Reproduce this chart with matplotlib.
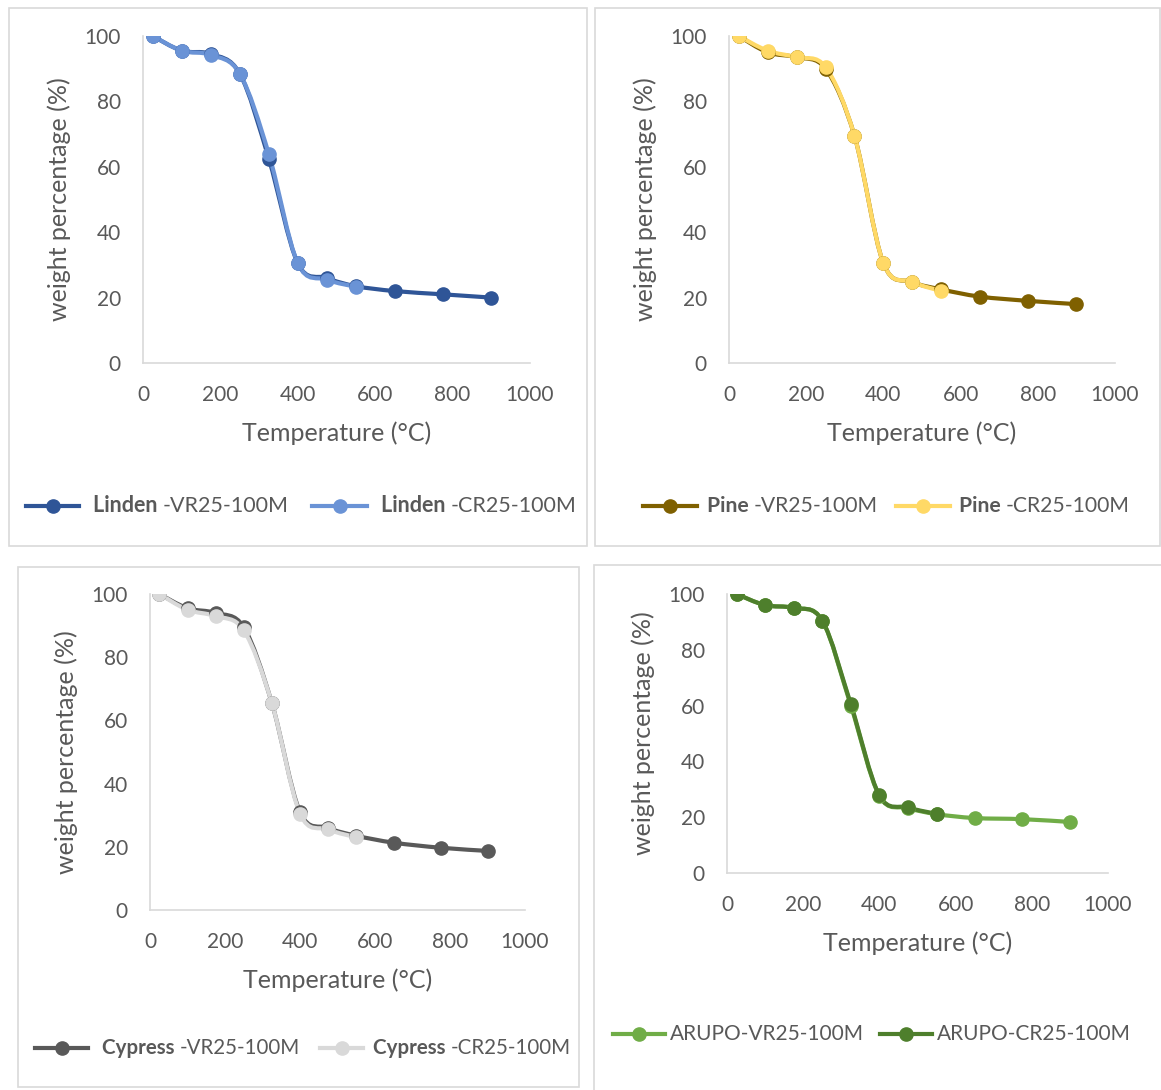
import numpy as np
import matplotlib
matplotlib.use("Agg")
import matplotlib.pyplot as plt
from matplotlib.path import Path
from matplotlib.patches import PathPatch, Rectangle
from matplotlib.lines import Line2D

plt.rcParams['font.family'] = ['Lato', 'DejaVu Sans']

# temperatures (°C)
temp = [25, 100, 175, 250, 325, 400, 475, 550, 650, 775, 900]
temp_cr = temp[:8]

linden_vr = [100, 95.5, 94.5, 88.5, 62.5, 30.5, 26.0, 23.5, 22.0, 21.0, 20.0]
linden_cr = [100, 95.5, 94.2, 88.5, 64.0, 30.5, 25.5, 23.3]
pine_vr = [100, 95.0, 93.5, 90.0, 69.5, 30.5, 24.8, 22.5, 20.3, 19.0, 18.0]
pine_cr = [100, 95.5, 93.5, 90.5, 69.5, 30.5, 24.8, 22.0]
cypress_vr = [100, 95.5, 94.0, 89.5, 65.5, 31.0, 26.0, 23.5, 21.3, 19.7, 18.7]
cypress_cr = [100, 95.0, 93.0, 88.5, 65.5, 30.5, 25.5, 23.0]
arupo_vr = [100, 96.0, 95.0, 90.5, 60.0, 27.6, 23.3, 21.1, 19.7, 19.3, 18.3]
arupo_cr = [100, 96.0, 95.0, 90.5, 60.5, 27.8, 23.5, 21.2]

GRAY = '#595959'
GRID = '#d9d9d9'


def smooth_path(x, y):
    # Excel-like smoothed line: cubic Bezier through the points
    pts = np.column_stack([x, y]).astype(float)
    n = len(pts)
    verts = [pts[0]]
    codes = [Path.MOVETO]
    for i in range(n - 1):
        p0 = pts[i - 1] if i > 0 else pts[i]
        p1, p2 = pts[i], pts[i + 1]
        p3 = pts[i + 2] if i + 2 < n else pts[i + 1]
        verts += [p1 + (p2 - p0) / 6, p2 - (p3 - p1) / 6, p2]
        codes += [Path.CURVE4] * 3
    return Path(verts, codes)


W, H = 1161, 1090
fig = plt.figure(figsize=(W / 100, H / 100), dpi=100)


def fx(px):
    return px / W


def fy(py):
    return 1 - py / H


# panel frames (left, top, right, bottom in pixels)
for l, t, r, b in [(9, 8, 587, 546), (595, 8, 1160, 546),
                   (18, 567, 579, 1087), (594, 565, 1170, 1100)]:
    fig.add_artist(Rectangle((fx(l), fy(b)), fx(r - l), (b - t) / H,
                             transform=fig.transFigure, fill=False,
                             edgecolor=GRID, lw=1.2))

panels = [
    # axes box px (x0, x1, ytop, ybottom), series, legend
    dict(box=(143, 530, 36, 363), vr=linden_vr, cr=linden_cr,
         colors=('#2F5597', '#6A93D6'), name='Linden', bold=True,
         leg_y=506, leg=[(26, 79, 93), (312, 367, 381)], fs=15.5),
    dict(box=(729, 1115, 36, 363), vr=pine_vr, cr=pine_cr,
         colors=('#7F6000', '#FFD966'), name='Pine', bold=True,
         leg_y=506, leg=[(643, 697, 707), (896, 950, 959)], fs=15.2),
    dict(box=(150, 525, 594, 910), vr=cypress_vr, cr=cypress_cr,
         colors=('#595959', '#D9D9D9'), name='Cypress', bold=True,
         leg_y=1048, leg=[(35, 88, 102), (320, 363, 373)], fs=14.8),
    dict(box=(727, 1108, 594, 873), vr=arupo_vr, cr=arupo_cr,
         colors=('#70AD47', '#4E7F2C'), name='ARUPO', bold=False,
         leg_y=1034, leg=[(613, 665, 670), (880, 932, 937)], fs=15),
]

for p in panels:
    x0, x1, yt, yb = p['box']
    ax = fig.add_axes([fx(x0), fy(yb), fx(x1 - x0), (yb - yt) / H])
    cvr, ccr = p['colors']
    for xs, ys, c in [(temp, p['vr'], cvr), (temp_cr, p['cr'], ccr)]:
        ax.add_patch(PathPatch(smooth_path(xs, ys), facecolor='none',
                               edgecolor=c, lw=3, capstyle='round',
                               joinstyle='round', zorder=3))
        ax.plot(xs, ys, 'o', color=c, ms=9.5, zorder=4)
    ax.set_xlim(0, 1000)
    ax.set_ylim(0, 100)
    ax.set_xticks(range(0, 1001, 200))
    ax.set_yticks(range(0, 101, 20))
    for s in ['top', 'right']:
        ax.spines[s].set_visible(False)
    for s in ['left', 'bottom']:
        ax.spines[s].set_color(GRID)
        ax.spines[s].set_linewidth(1.2)
    ax.tick_params(length=0, labelsize=15, labelcolor=GRAY)
    ax.tick_params(axis='x', pad=16)
    ax.tick_params(axis='y', pad=16)
    ax.patch.set_alpha(0)
    ax.set_xlabel('Temperature (°C)', fontsize=18, color=GRAY, labelpad=12)
    ax.set_ylabel('weight percentage (%)', fontsize=18, color=GRAY,
                  labelpad=10)

    # legend
    ly = fy(p['leg_y'])
    fs = p['fs']
    for (a, b, tx), c, suf in zip(p['leg'], (cvr, ccr),
                                  ('-VR25-100M', '-CR25-100M')):
        fig.add_artist(Line2D([fx(a), fx(b)], [ly, ly], color=c, lw=3,
                              transform=fig.transFigure))
        fig.add_artist(Line2D([fx((a + b) / 2)], [ly], marker='o', ms=9.5,
                              color=c, transform=fig.transFigure))
        if p['bold']:
            t1 = fig.text(fx(tx), ly, p['name'] + ' ', fontsize=fs,
                          color=GRAY, weight='bold', va='center')
            ax.annotate(suf, xy=(1, 0.5), xycoords=t1, va='center',
                        fontsize=fs, color=GRAY, annotation_clip=False)
        else:
            fig.text(fx(tx), ly, p['name'] + suf, fontsize=fs,
                     color=GRAY, va='center')

fig.savefig('out.png', dpi=100, facecolor='white')
